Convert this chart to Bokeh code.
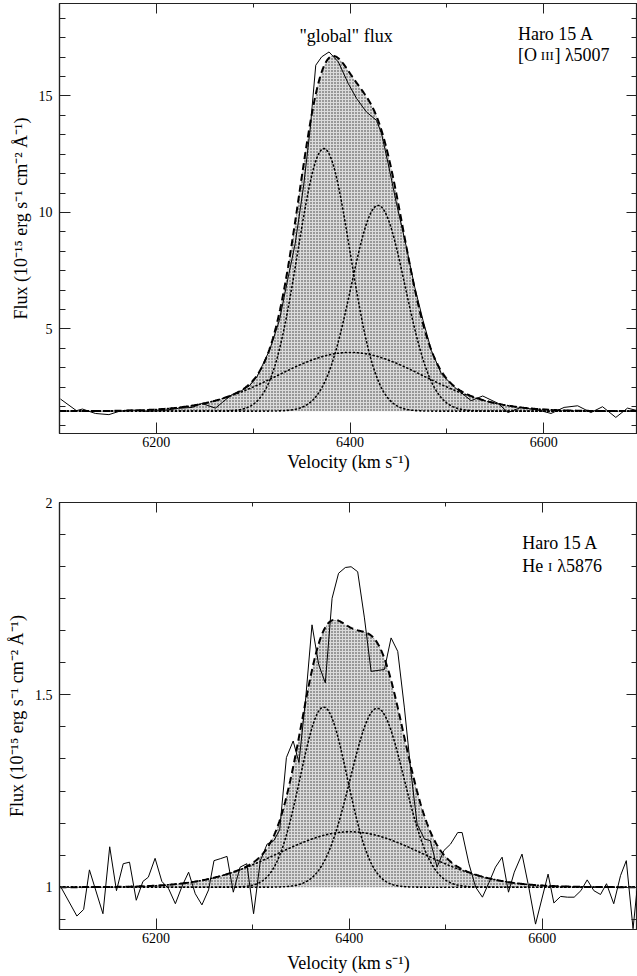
import numpy as np
from bokeh.plotting import figure
from bokeh.models import FixedTicker, LinearAxis, Range1d, Label
from bokeh.layouts import column
from bokeh.embed import file_html
from bokeh.resources import INLINE

# ---------------- data ----------------
# Top panel: [O III] 5007 observed profile
oiii_vel = [6101, 6117.5, 6123.7, 6137, 6151, 6161.5, 6175, 6189, 6206, 6223, 6237,
            6247, 6261, 6268, 6278, 6288, 6296, 6304, 6317, 6327, 6334.7, 6343.3,
            6351.9, 6358.7, 6364.6, 6370.7, 6378.3, 6387.9, 6398.2, 6406.8, 6417,
            6427.4, 6432.5, 6439.4, 6448, 6458.2, 6466.8, 6475.4, 6484, 6494.3, 6508,
            6525, 6537, 6553, 6563, 6576.6, 6587, 6597, 6607.5, 6621, 6635, 6648.7,
            6660.7, 6674.4, 6686.5, 6696.8]
oiii_flux = [1.99, 1.49, 1.56, 1.37, 1.32, 1.46, 1.52, 1.46, 1.49, 1.59, 1.63,
             1.80, 1.60, 1.84, 2.18, 2.35, 2.55, 2.95, 4.10, 5.36, 6.93, 8.65,
             11.09, 13.53, 16.32, 16.68, 16.89, 16.46, 15.53, 14.89, 14.31,
             13.95, 13.38, 12.09, 10.37, 8.51, 6.79, 5.36, 4.07, 3.07, 2.49,
             1.92, 2.12, 1.80, 1.41, 1.63, 1.56, 1.49, 1.37, 1.63, 1.70, 1.41,
             1.66, 1.20, 1.60, 1.49]
# Gaussian decomposition (continuum, centres, sigmas, amplitudes)
oiii_cont = 1.47
oiii_centers = [6373, 6429, 6400]
oiii_sigmas = [27.0, 27.9, 75.0]
oiii_amps = [11.27, 8.83, 2.52]

# Bottom panel: He I 5876 observed profile
hei_vel = [6101.5, 6118, 6125, 6131, 6145, 6152, 6159, 6166, 6172.5, 6179.5, 6186.4,
           6192, 6199, 6206, 6213, 6220, 6227, 6233.7, 6240.6, 6247.5, 6254.4, 6260,
           6266.5, 6273.5, 6280, 6287, 6294, 6301, 6308, 6315, 6322, 6328, 6335,
           6342, 6348, 6355, 6361.5, 6368.4, 6375.3, 6382.3, 6389, 6396, 6402,
           6408.8, 6415.8, 6422.7, 6436.5, 6443.4, 6450.3, 6457.2, 6464.2, 6470.4,
           6478, 6484, 6491, 6498, 6505, 6512.4, 6517, 6524, 6531, 6538, 6545,
           6551.5, 6558.4, 6565, 6571, 6579, 6586, 6593, 6606, 6612, 6619, 6626,
           6633, 6640, 6646.5, 6653.4, 6660.3, 6666.5, 6674, 6681, 6687, 6694, 6698]
hei_flux = [1.00, 0.925, 0.942, 1.045, 0.931, 1.105, 0.991, 1.061, 1.065, 0.966, 1.015,
            1.026, 1.075, 1.015, 0.996, 0.957, 1.003, 1.039, 0.983, 0.954, 0.993, 1.069,
            1.074, 1.080, 0.987, 1.052, 1.061, 0.931, 1.069, 1.112, 1.121, 1.149, 1.337,
            1.380, 1.324, 1.492, 1.682, 1.579, 1.531, 1.751, 1.816, 1.831, 1.833,
            1.820, 1.700, 1.561, 1.566, 1.648, 1.613, 1.466, 1.294, 1.164,
            1.125, 1.121, 1.052, 1.095, 1.112, 1.142, 1.142, 1.061, 1.000, 0.974, 1.013,
            1.052, 1.078, 0.987, 1.039, 1.086, 1.000, 0.904, 1.034, 0.959, 0.976, 0.974,
            0.974, 0.991, 1.019, 0.991, 0.981, 1.009, 0.957, 1.030, 1.069, 0.892, 0.991]
hei_cont = 1.0
hei_centers = [6373.6, 6429, 6401]
hei_sigmas = [24.5, 27.9, 75.0]
hei_amps = [0.468, 0.465, 0.144]

x_ticks = [6200, 6400, 6600]
x_minor = [6100, 6300, 6500, 6700]
oiii_ticks = [5, 10, 15]
hei_ticks = [1, 1.5, 2]
hei_tick_labels = {1: "1", 1.5: "1.5", 2: "2"}

XLABEL = "Velocity (km s\u207b\u00b9)"
YLABEL = "Flux (10\u207b\u00b9\u2075 erg s\u207b\u00b9 cm\u207b\u00b2 \u00c5\u207b\u00b9)"
FONT = "Liberation Serif"


def minor_list(ticks, lo, hi, n):
    step = (ticks[1] - ticks[0]) / n
    start = ticks[0] - step * int((ticks[0] - lo) / step)
    out = []
    v = start
    while v <= hi + 1e-9:
        if all(abs(v - t) > 1e-9 for t in ticks):
            out.append(round(v, 6))
        v += step
    return out


def style_axis(ax, major_in, minor_in, labels=True):
    ax.axis_line_color = "#222222"
    ax.axis_line_width = 1.2
    ax.major_tick_in = major_in
    ax.major_tick_out = 0
    ax.minor_tick_in = minor_in
    ax.minor_tick_out = 0
    ax.major_tick_line_color = "#222222"
    ax.minor_tick_line_color = "#222222"
    ax.major_label_text_font = FONT
    ax.axis_label_text_font = FONT
    ax.axis_label_text_font_size = "18px"
    ax.axis_label_text_font_style = "normal"
    ax.axis_label_text_color = "black"
    if labels:
        ax.major_label_text_font_size = "14px"
        ax.major_label_text_color = "black"
    else:
        ax.major_label_text_font_size = "0px"
        ax.major_label_text_color = None
        ax.major_label_standoff = 0


def panel(vel, flux, cont, centers, sigmas, amps, yr, xr, yticks, ylabels,
          height, left, top, bottom, xlab_standoff):
    p = figure(width=637, height=height, output_backend="svg", toolbar_location=None,
               x_range=Range1d(*xr), y_range=Range1d(*yr),
               min_border_left=left, min_border_right=0,
               min_border_top=top, min_border_bottom=bottom)
    p.grid.visible = False
    p.outline_line_color = "#222222"
    p.outline_line_width = 1.2
    p.background_fill_color = "white"
    p.border_fill_color = "white"

    grid = np.linspace(xr[0], xr[1], 800)
    comps = [a * np.exp(-0.5 * ((grid - c) / s) ** 2) for c, s, a in zip(centers, sigmas, amps)]
    model = cont + sum(comps)

    p.varea(x=grid, y1=np.full_like(grid, cont), y2=model, fill_color="#dcdcdc",
            hatch_pattern="dot", hatch_color="#333333", hatch_scale=3, hatch_weight=1)
    for cmp in comps:
        p.line(grid, cont + cmp, line_color="black", line_width=1.6, line_dash="1 3",
               line_cap="round")
    p.line(grid, model, line_color="black", line_width=2, line_dash="7 4")
    p.line(vel, flux, line_color="black", line_width=1)

    ymin_ticks = minor_list(yticks, yr[0], yr[1], 6)
    xmin_ticks = x_minor

    xa = p.xaxis[0]
    xa.ticker = FixedTicker(ticks=x_ticks, minor_ticks=xmin_ticks)
    xa.axis_label = XLABEL
    style_axis(xa, 11, 5)
    xa.major_label_standoff = 3
    xa.axis_label_standoff = xlab_standoff

    ya = p.yaxis[0]
    ya.ticker = FixedTicker(ticks=yticks, minor_ticks=ymin_ticks)
    ya.axis_label = YLABEL
    style_axis(ya, 11, 6)
    ya.major_label_standoff = 7
    if ylabels:
        ya.major_label_overrides = ylabels

    top_ax = LinearAxis(ticker=FixedTicker(ticks=x_ticks, minor_ticks=xmin_ticks))
    style_axis(top_ax, 10, 4, labels=False)
    p.add_layout(top_ax, "above")
    right_ax = LinearAxis(ticker=FixedTicker(ticks=yticks, minor_ticks=ymin_ticks))
    style_axis(right_ax, 11, 6, labels=False)
    p.add_layout(right_ax, "right")
    return p


def add_text(p, x, y, txt, size="18px"):
    p.add_layout(Label(x=x, y=y, text=txt, text_font=FONT, text_font_size=size,
                       text_color="black", text_baseline="alphabetic", text_align="left"))


top = panel(oiii_vel, oiii_flux, oiii_cont, oiii_centers, oiii_sigmas, oiii_amps,
            (0.51, 18.97), (6100, 6696.8), oiii_ticks, None, 480, 57, 3, 47, 2)
add_text(top, 6347.8, 17.57, "\"global\" flux")
add_text(top, 6573.3, 17.68, "Haro 15 A")
add_text(top, 6573.3, 16.75, "[O")
add_text(top, 6597.0, 16.75, "III", "13px")
add_text(top, 6611.0, 16.75, "] \u03bb5007")

bot = panel(hei_vel, hei_flux, hei_cont, hei_centers, hei_sigmas, hei_amps,
            (0.89, 2.0), (6100, 6698.6), hei_ticks, hei_tick_labels, 496, 59, 22, 47, 7)
add_text(bot, 6579.2, 1.894, "Haro 15 A")
add_text(bot, 6579.2, 1.834, "He")
add_text(bot, 6606.0, 1.834, "I", "13px")
add_text(bot, 6615.5, 1.834, "\u03bb5876")

layout = column(top, bot, spacing=0)
open("out.html", "w").write(file_html(layout, INLINE))
